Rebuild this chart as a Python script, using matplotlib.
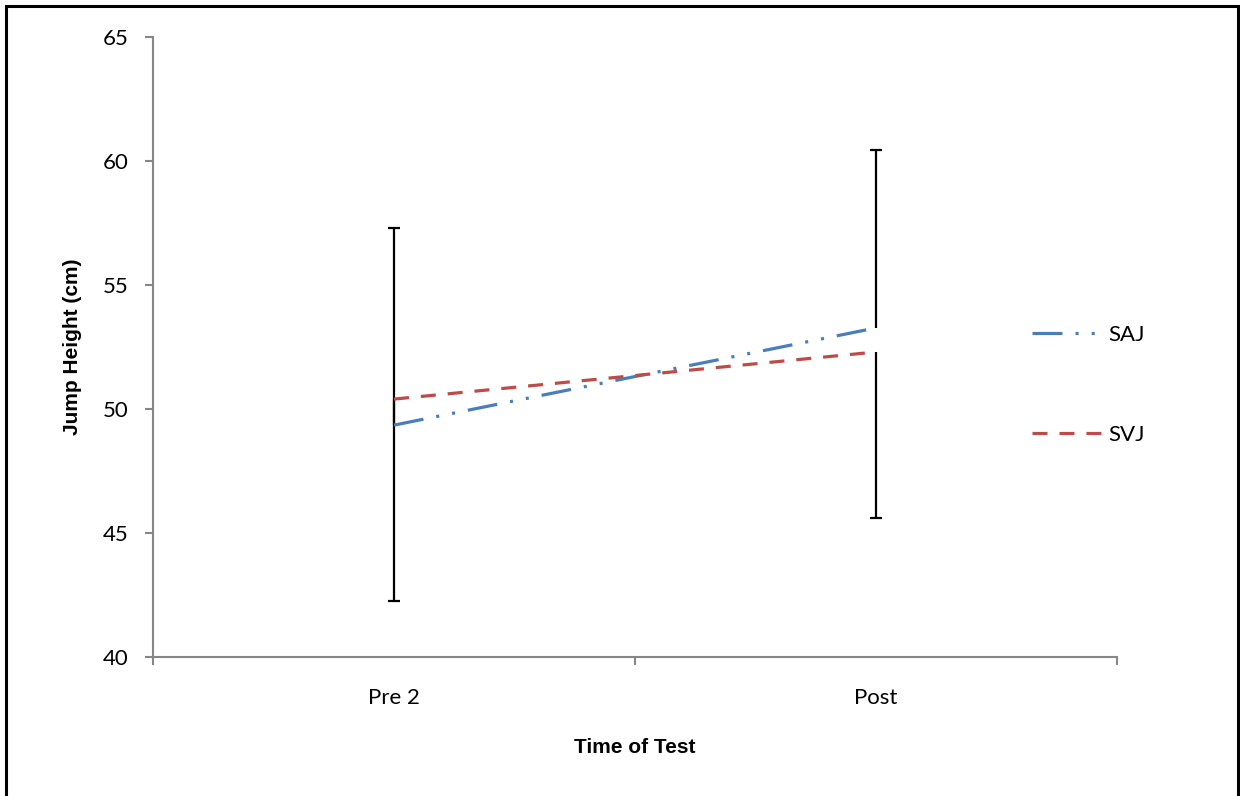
import matplotlib
matplotlib.use("Agg")
import matplotlib.pyplot as plt
from matplotlib.patches import Rectangle

# data
times = ["Pre 2", "Post"]
saj = [49.35, 53.27]
svj = [50.4, 52.3]
saj_err_up = [7.95, 7.17]    # SAJ bars drawn upward only
svj_err_down = [8.14, 6.7]   # SVJ bars drawn downward only

plt.rcParams['lines.scale_dashes'] = False

fig = plt.figure(figsize=(12.4, 7.96), dpi=100)
ax = fig.add_axes([0.1234, 0.1746, 0.9008 - 0.1234, 0.9535 - 0.1746])

x = [i + 0.5 for i in range(len(times))]

# one-sided error bars, cap only at the far end
ax.errorbar(x, saj, yerr=[[0] * len(saj), saj_err_up], fmt='none',
            ecolor='black', elinewidth=1.6, capsize=0, zorder=2)
ax.errorbar(x, svj, yerr=[svj_err_down, [0] * len(svj)], fmt='none',
            ecolor='black', elinewidth=1.6, capsize=0, zorder=2)
saj_top = [v + e for v, e in zip(saj, saj_err_up)]
svj_bot = [v - e for v, e in zip(svj, svj_err_down)]
ax.plot(x, saj_top, ls='none', marker='_', ms=9, mew=1.6, color='black', zorder=2)
ax.plot(x, svj_bot, ls='none', marker='_', ms=9, mew=1.6, color='black', zorder=2)

l1, = ax.plot(x, saj, color='#4A7EBB', lw=2.3, label='SAJ', zorder=3)
l1.set_dashes((21.6, 9.4, 2.2, 9.4, 2.2, 9.4))
l2, = ax.plot(x, svj, color='#BE4B48', lw=2.3, label='SVJ', zorder=3)
l2.set_dashes((10.8, 8.6))

ax.set_xlim(0, len(times))
ax.set_ylim(40, 65)
ax.set_yticks(range(40, 66, 5))
ax.set_xticks(range(len(times) + 1))
ax.set_xticklabels([])
ax.set_xticks(x, minor=True)
ax.set_xticklabels(times, minor=True)

for s in ['top', 'right']:
    ax.spines[s].set_visible(False)
for s in ['left', 'bottom']:
    ax.spines[s].set_color('#868686')
    ax.spines[s].set_linewidth(1.5)

ax.tick_params(axis='both', which='major', direction='out', length=5.8,
               width=1.5, color='#868686')
ax.tick_params(axis='y', labelsize=16, pad=12)
ax.tick_params(axis='x', which='minor', length=0, labelsize=16, pad=22)
for lab in ax.get_yticklabels() + ax.get_xticklabels(minor=True):
    lab.set_family('Lato')

ax.set_xlabel('Time of Test', fontsize=15, fontweight='bold',
              family='Liberation Sans')
ax.xaxis.set_label_coords(0.5, -0.131)
ax.set_ylabel('Jump Height (cm)', fontsize=15, fontweight='bold',
              family='Liberation Sans')
ax.yaxis.set_label_coords(-0.074, 0.5)

leg = fig.legend(handles=[l1, l2], loc='center left',
                 bbox_to_anchor=(1032 / 1240, 1 - 385 / 796),
                 frameon=False, handlelength=3.1, handletextpad=0.35,
                 labelspacing=3.6, borderpad=0, borderaxespad=0,
                 prop={'family': 'Lato', 'size': 16})

fig.patches.append(Rectangle((6 / 1240, -0.05), 1232 / 1240, 1 - 6 / 796 + 0.05,
                             transform=fig.transFigure, fill=False,
                             edgecolor='black', lw=2.2, zorder=0))

fig.savefig('out.png', dpi=100, facecolor='white')
